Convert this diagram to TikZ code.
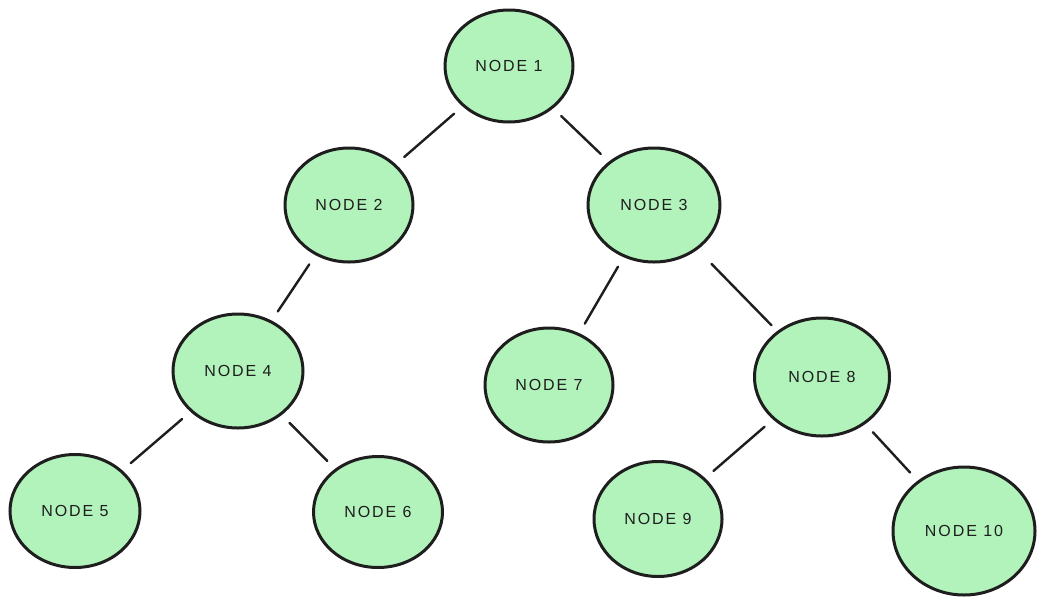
\documentclass[tikz,border=0pt]{standalone}
\usepackage{fontspec}
\setmainfont{Liberation Sans}[LetterSpace=12]
\usetikzlibrary{shapes.geometric}
\definecolor{nodefill}{HTML}{B2F2BB}
\definecolor{ink}{HTML}{1E1E1E}
\tikzset{
  treenode/.style={ellipse, draw=ink, line width=3pt, fill=nodefill, inner sep=0pt,
    font=\fontsize{16}{19}\selectfont, text=ink},
  edge/.style={draw=ink, line width=2.4pt, line cap=round, shorten <=11pt, shorten >=11pt}
}
\begin{document}
\begin{tikzpicture}[x=1pt,y=-1pt]
\useasboundingbox (0,0) rectangle (1044,603);
\node[treenode, minimum width=128pt, minimum height=112pt] (n1) at (509,66) {NODE 1};
\node[treenode, minimum width=128pt, minimum height=114pt] (n2) at (349,205) {NODE 2};
\node[treenode, minimum width=132pt, minimum height=114pt] (n3) at (654,205) {NODE 3};
\node[treenode, minimum width=130pt, minimum height=114pt] (n4) at (238,371) {NODE 4};
\node[treenode, minimum width=130pt, minimum height=113pt] (n5) at (75,511) {NODE 5};
\node[treenode, minimum width=129pt, minimum height=111pt] (n6) at (378,512) {NODE 6};
\node[treenode, minimum width=128pt, minimum height=114pt] (n7) at (549,385) {NODE 7};
\node[treenode, minimum width=135pt, minimum height=118pt] (n8) at (822,377) {NODE 8};
\node[treenode, minimum width=128pt, minimum height=115pt] (n9) at (658,519) {NODE 9};
\node[treenode, minimum width=142pt, minimum height=128pt] (n10) at (964,531) {NODE 10};
\draw[edge] (n1) -- (n2);
\draw[edge] (n1) -- (n3);
\draw[edge] (n2) -- (n4);
\draw[edge] (n3) -- (n7);
\draw[edge, shorten <=20pt, shorten >=8pt] (n3) -- (n8);
\draw[edge] (n4) -- (n5);
\draw[edge] (n4) -- (n6);
\draw[edge] (n8) -- (n9);
\draw[edge] (n8) -- (n10);
\end{tikzpicture}
\end{document}
